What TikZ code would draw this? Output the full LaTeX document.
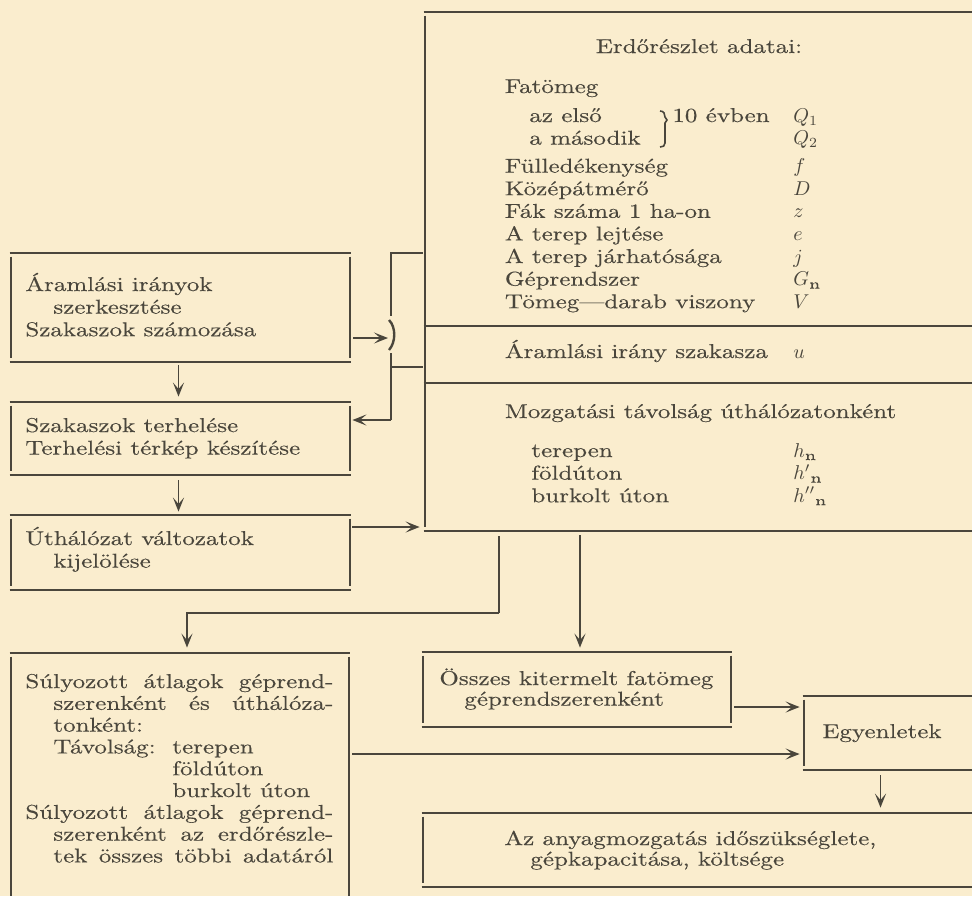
\documentclass[tikz,border=0pt]{standalone}
\usepackage{fontspec}
\setmainfont{Latin Modern Roman}[FakeStretch=1.25,FakeBold=0.35]
\usetikzlibrary{arrows.meta,calc,fit}
\definecolor{paper}{RGB}{250,237,206}
\definecolor{ink}{RGB}{74,70,60}
\newcommand\boxtb[1]{\draw[bl] (#1.north west) -- (#1.north east) (#1.south west) -- (#1.south east);}
\newcommand\boxl[1]{\draw[bl] ($(#1.north west)+(1.5,4)$) -- ($(#1.south west)+(1.5,-4)$);}
\newcommand\boxr[1]{\draw[bl] ($(#1.north east)+(-1.5,4)$) -- ($(#1.south east)+(-1.5,-4)$);}
\newcommand\symcol[2]{\makebox[144.25pt][l]{#1}#2}
\tikzset{
  bl/.style={draw=ink, line width=0.95pt},
  arr/.style={bl, -{Stealth[length=7pt,width=5.5pt,inset=3.2pt]}},
  area/.style={inner sep=0pt, draw=none},
  txt/.style={anchor=base west, inner sep=0pt, text=ink, font=\fontsize{10}{11.3}\selectfont},
}
\begin{document}
\begin{tikzpicture}[x=0.5pt,y=-0.5pt]
\fill[paper] (0,0) rectangle (972,896);
\useasboundingbox (0,0) rectangle (972,896);

% box areas
\node[area, fit={(10,253) (351,362)}] (A) {};
\node[area, fit={(10,402) (351,475)}] (B) {};
\node[area, fit={(10,515) (351,590)}] (C) {};
\node[area, fit={(424,12) (972,531)}] (D) {};
\node[area, fit={(10,653) (350,900)}] (E) {};
\node[area, fit={(422,652) (732,727)}] (F) {};
\node[area, fit={(803,696) (972,770)}] (G) {};
\node[area, fit={(422,813) (972,887)}] (H) {};

% borders
\boxtb{A}\boxl{A}\boxr{A}
\boxtb{B}\boxl{B}\boxr{B}
\boxtb{C}\boxl{C}\boxr{C}
\boxtb{D}\boxl{D}
\draw[bl] (E.north west) -- (E.north east);\boxl{E}\boxr{E}
\boxtb{F}\boxl{F}\boxr{F}
\boxtb{G}\boxl{G}
\boxtb{H}\boxl{H}
% dividers of D
\draw[bl] (D.west |- 0,326) -- (D.east |- 0,326);
\draw[bl] (D.west |- 0,383) -- (D.east |- 0,383);

% texts
\node[txt] (tA) at (25,291) {\begin{tabular}[t]{@{}l@{}}Áramlási irányok\\ \hspace*{14pt}szerkesztése\\ Szakaszok számozása\end{tabular}};
\node[txt] (tB) at (25,432) {\begin{tabular}[t]{@{}l@{}}Szakaszok terhelése\\ Terhelési térkép készítése\end{tabular}};
\node[txt] (tC) at (25,545) {\begin{tabular}[t]{@{}l@{}}Úthálózat változatok\\ \hspace*{14pt}kijelölése\end{tabular}};
\node[txt, anchor=base] (tD0) at (699,53) {Erdőrészlet adatai:};
\node[txt] (tD1) at (504.5,93) {\begin{tabular}[t]{@{}l@{}}
Fatömeg\\[3.2pt]
\symcol{\hspace*{12.25pt}\makebox[71.5pt][l]{az első}10 évben}{$Q_1$}\\
\symcol{\hspace*{12.25pt}a második}{$Q_2$}\\[2.7pt]
\symcol{Fülledékenység}{$f$}\\
\symcol{Középátmérő}{$D$}\\
\symcol{Fák száma 1 ha-on}{$z$}\\
\symcol{A terep lejtése}{$e$}\\
\symcol{A terep járhatósága}{$j$}\\
\symcol{Géprendszer}{$G_{\mathrm{n}}$}\\
\symcol{Tömeg---darab viszony}{$V$}
\end{tabular}};
\node[txt] (tD2) at (504.5,358) {\symcol{Áramlási irány szakasza}{$u$}};
\node[txt] (tD3) at (504.5,418) {\begin{tabular}[t]{@{}l@{}}
Mozgatási távolság úthálózatonként\\[8.2pt]
\symcol{\hspace*{13.25pt}terepen}{$h_{\mathrm{n}}$}\\
\symcol{\hspace*{13.25pt}földúton}{$h'{}_{\mathrm{n}}$}\\
\symcol{\hspace*{13.25pt}burkolt úton}{$h''{}_{\mathrm{n}}$}
\end{tabular}};
\draw[ink, line width=0.8pt] (660,111) .. controls (664,111) and (665,114) .. (665,117) -- (667,120) -- (665,123) -- (665,143) .. controls (665,146) and (663,147) .. (660,147);
\node[txt, font=\fontsize{10}{10.9}\selectfont] (tE) at (25,688) {\begin{tabular}[t]{@{}l@{}}
\makebox[154pt][s]{Súlyozott átlagok géprend-}\\
\hspace*{14pt}\makebox[140pt][s]{szerenként és úthálóza-}\\
\hspace*{14pt}tonként:\\
\hspace*{14pt}\makebox[59.5pt][l]{Távolság:}terepen\\
\hspace*{73.5pt}földúton\\
\hspace*{73.5pt}burkolt úton\\
\makebox[154pt][s]{Súlyozott átlagok géprend-}\\
\hspace*{14pt}\makebox[140pt][s]{szerenként az erdőrészle-}\\
\hspace*{14pt}\makebox[140pt][s]{tek összes többi adatáról}
\end{tabular}};
\node[txt] (tF) at (439,685) {\begin{tabular}[t]{@{}l@{}}Összes kitermelt fatömeg\\[-1pt] \hspace*{12.5pt}géprendszerenként\end{tabular}};
\node[txt, anchor=base] (tG) at (882,738) {Egyenletek};
\node[txt] (tH) at (504,845) {\begin{tabular}[t]{@{}l@{}}Az anyagmozgatás időszükséglete,\\[-1pt] \hspace*{13pt}gépkapacitása, költsége\end{tabular}};

% bracket between A/B and D
\coordinate (br2) at (391,253);
\coordinate (br3) at (391,316);
\coordinate (br4) at (391,353);
\coordinate (br5) at (391,420);
\coordinate (br7) at (391,367);
\coordinate (P) at (388,338);
\draw[bl] ($(D.west |- br2)+(-1,0)$) -- (br2) -- (br3);
\draw[bl] (br4) -- (br5);
\draw[bl] ($(D.west |- br7)+(-1,0)$) -- (br7);
\draw[ink, line width=1.2pt] (389,320) .. controls (396,327) and (396,342) .. (389,350);

% connectors
\draw[arr] ($(A.south)+(-2,3)$) -- ($(B.north)+(-2,-5)$);
\draw[arr] ($(B.south)+(-2,5)$) -- ($(C.north)+(-2,-3)$);
\draw[arr] ($(A.east |- P)+(2,0)$) -- (P);
\draw[arr] (br5) -- ($(B.east |- br5)+(1,0)$);
\coordinate (cd) at (352,527);
\draw[arr] (cd) -- ($(D.west |- cd)+(-4,0)$);
\coordinate (k1) at (499,613);
\draw[bl] ($(D.south -| k1)+(0,5)$) -- (k1);
\draw[arr] (k1) -| ($(E.north)+(7,-5)$);
\draw[arr] ($(D.south -| F.north)+(3,4)$) -- ($(F.north)+(3,-4)$);
\coordinate (fg) at ($(F.east)+(2,17.5)$);
\draw[arr] (fg) -- ($(fg -| G.west)+(-3,0)$);
\coordinate (eg) at ($(E.east |- G.west)+(2,21)$);
\draw[arr] (eg) -- ($(eg -| G.west)+(-3,0)$);
\draw[arr] ($(G.south)+(-7,5)$) -- ($(G.south |- H.north)+(-7,-5)$);
\end{tikzpicture}
\end{document}
